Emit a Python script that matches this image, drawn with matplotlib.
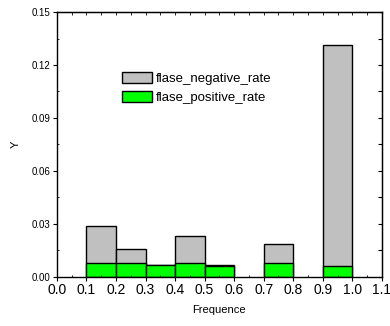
import matplotlib.pyplot as plt
from matplotlib.ticker import MultipleLocator, NullFormatter
import numpy as np

plt.rcParams['font.family'] = ['Liberation Sans', 'DejaVu Sans']

# bin left edges, bin width 0.1
bins = [0.1, 0.2, 0.3, 0.4, 0.5, 0.7, 0.9]
negative_rate = [0.0287, 0.0155, 0.0066, 0.0232, 0.0066, 0.0184, 0.1313]
positive_rate = [0.0076, 0.0076, 0.0066, 0.0076, 0.0060, 0.0076, 0.0060]
xticks = [0.0, 0.1, 0.2, 0.3, 0.4, 0.5, 0.6, 0.7, 0.8, 0.9, 1.0, 1.1]
yticks = [0.00, 0.03, 0.06, 0.09, 0.12, 0.15]

fig = plt.figure(figsize=(3.9, 3.26), dpi=100)
ax = fig.add_axes([0.146, 0.151, 0.833, 0.812])

ax.bar(bins, negative_rate, width=0.1, align='edge', color='#c0c0c0',
       edgecolor='black', linewidth=1, label='flase_negative_rate')
ax.bar(bins, positive_rate, width=0.1, align='edge', color='#00ff00',
       edgecolor='black', linewidth=1, label='flase_positive_rate')

ax.set_xlim(0, 1.1)
ax.set_ylim(0, 0.15)
ax.set_xticks(xticks)
ax.set_xticklabels(['%.1f' % v for v in xticks], fontsize=10)
ax.set_yticks(yticks)
ax.set_yticklabels(['%.2f' % v for v in yticks], fontsize=7)
ax.xaxis.set_minor_locator(MultipleLocator(0.05))
ax.yaxis.set_minor_locator(MultipleLocator(0.015))
ax.tick_params(which='major', direction='out', length=3, width=0.8, pad=1.5)
ax.tick_params(which='minor', direction='in', length=1.5, width=0.6)
for sp in ax.spines.values():
    sp.set_linewidth(1)

# top and right axes: inward ticks only
top = ax.secondary_xaxis('top')
top.set_xticks(np.arange(0, 1.11, 0.05))
top.tick_params(direction='in', length=2, width=0.6, labeltop=False)
right = ax.secondary_yaxis('right')
right.set_yticks(np.arange(0, 0.151, 0.015))
right.tick_params(direction='in', length=3, width=0.8, labelright=False)

ax.set_xlabel('Frequence', fontsize=8, labelpad=6)
ax.set_ylabel('Y', fontsize=8, labelpad=8)

ax.legend(loc='upper left', bbox_to_anchor=(0.2, 0.775), frameon=False,
          fontsize=9.5, handlelength=2.3, handleheight=0.9,
          labelspacing=0.45, handletextpad=0.3, borderpad=0, borderaxespad=0)

fig.savefig('out.png', dpi=100)
